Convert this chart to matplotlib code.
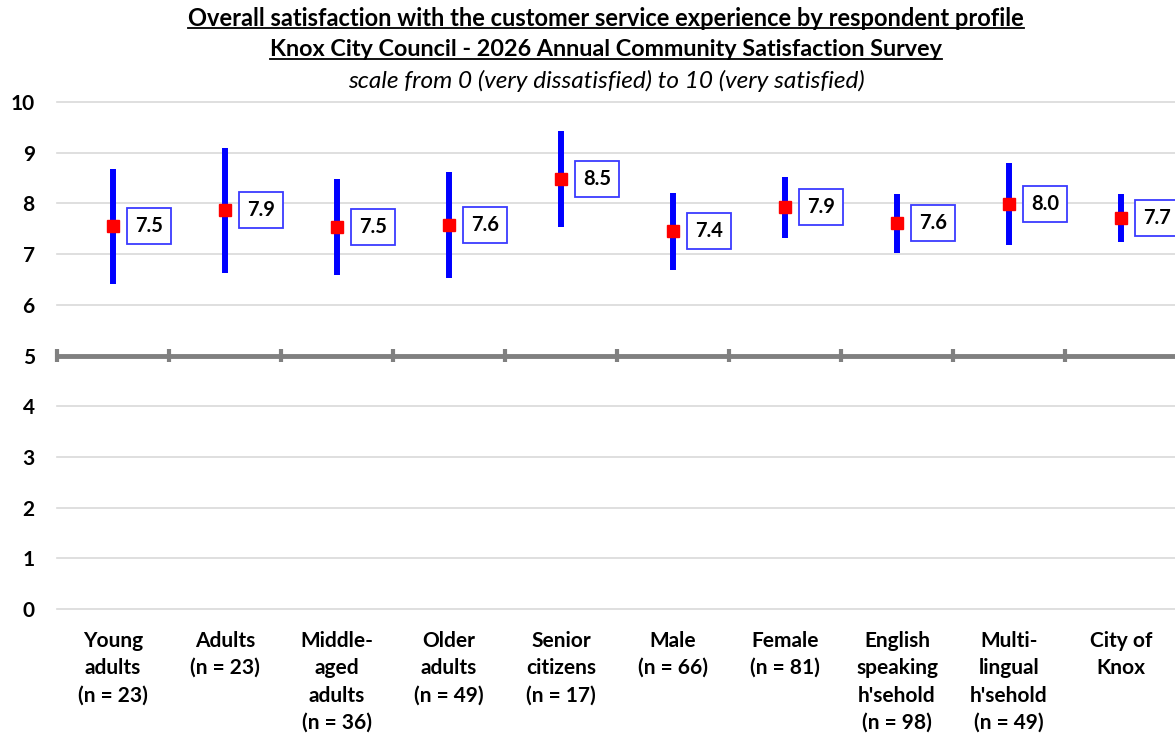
import matplotlib
matplotlib.use("Agg")
import matplotlib.pyplot as plt
from matplotlib.lines import Line2D
import numpy as np

plt.rcParams['font.family'] = ['Lato', 'DejaVu Sans']

categories = ["Young\nadults\n(n = 23)", "Adults\n(n = 23)", "Middle-\naged\nadults\n(n = 36)",
              "Older\nadults\n(n = 49)", "Senior\ncitizens\n(n = 17)", "Male\n(n = 66)",
              "Female\n(n = 81)", "English\nspeaking\nh'sehold\n(n = 98)",
              "Multi-\nlingual\nh'sehold\n(n = 49)", "City of\nKnox"]
means = [7.55, 7.87, 7.54, 7.58, 8.49, 7.45, 7.93, 7.61, 7.98, 7.71]
lower = [6.41, 6.63, 6.58, 6.53, 7.54, 6.68, 7.32, 7.02, 7.17, 7.24]
upper = [8.68, 9.10, 8.49, 8.61, 9.42, 8.21, 8.53, 8.19, 8.79, 8.18]
value_labels = ["7.5", "7.9", "7.5", "7.6", "8.5", "7.4", "7.9", "7.6", "8.0", "7.7"]

title1 = "Overall satisfaction with the customer service experience by respondent profile"
title2 = "Knox City Council - 2026 Annual Community Satisfaction Survey"
subtitle = "scale from 0 (very dissatisfied) to 10 (very satisfied)"

fig = plt.figure(figsize=(11.75, 7.34), dpi=100)
ax = fig.add_axes([57 / 1175, 1 - 609 / 734, 1120 / 1175, 507 / 734])

x = np.arange(1, len(categories) + 1)

# gridlines
for yv in range(0, 11):
    if yv != 5:
        ax.axhline(yv, color="#d9d9d9", lw=1.2, zorder=0, clip_on=False)

# the midpoint line with category tick marks
ax.axhline(5, color="#808080", lw=3.5, zorder=1, clip_on=False)
for b in np.arange(0.5, len(categories) + 1, 1.0):
    ax.plot([b, b], [4.87, 5.13], color="#808080", lw=3, zorder=1,
            solid_capstyle="butt", clip_on=False)

for xi, lo, hi in zip(x, lower, upper):
    ax.plot([xi, xi], [lo, hi], color="#0000ff", lw=4.3, solid_capstyle="butt", zorder=2)
ax.plot(x, means, "s", color="#ff0000", markersize=9, zorder=3, lw=0)

for xi, m, lab in zip(x, means, value_labels):
    ax.annotate(lab, (xi, m), xytext=(16, 0), textcoords="offset points",
                ha="left", va="center", fontsize=14.5, fontweight="bold",
                bbox=dict(boxstyle="square,pad=0.4", fc="white", ec="#3a3aff", lw=1.3),
                zorder=4, annotation_clip=False)

ax.set_xlim(0.5, len(categories) + 0.5)
ax.set_ylim(0, 10)
ax.set_yticks(range(0, 11))
ax.set_yticklabels([str(v) for v in range(0, 11)], fontsize=15, fontweight="bold")
ax.set_xticks(x)
ax.set_xticklabels(categories, fontsize=15, fontweight="bold", linespacing=1.47, va="top")
ax.tick_params(axis="y", length=0, pad=16)
ax.tick_params(axis="x", length=0, pad=15.5)
for s in ax.spines.values():
    s.set_visible(False)

cx = 606 / 1175
t1 = fig.text(cx, 1 - 18 / 734, title1, ha="center", va="center", fontsize=17, fontweight="bold")
t2 = fig.text(cx, 1 - 50 / 734, title2, ha="center", va="center", fontsize=16.8, fontweight="bold")
fig.text(cx, 1 - 81 / 734, subtitle, ha="center", va="center", fontsize=17.6, style="italic")

# underline the two title lines
renderer = fig.canvas.get_renderer()
for t in (t1, t2):
    bb = t.get_window_extent(renderer=renderer).transformed(fig.transFigure.inverted())
    fig.add_artist(Line2D([bb.x0, bb.x1], [bb.y0 + 0.002, bb.y0 + 0.002],
                          color="black", lw=1.3, transform=fig.transFigure))

fig.savefig("out.png", dpi=100)
